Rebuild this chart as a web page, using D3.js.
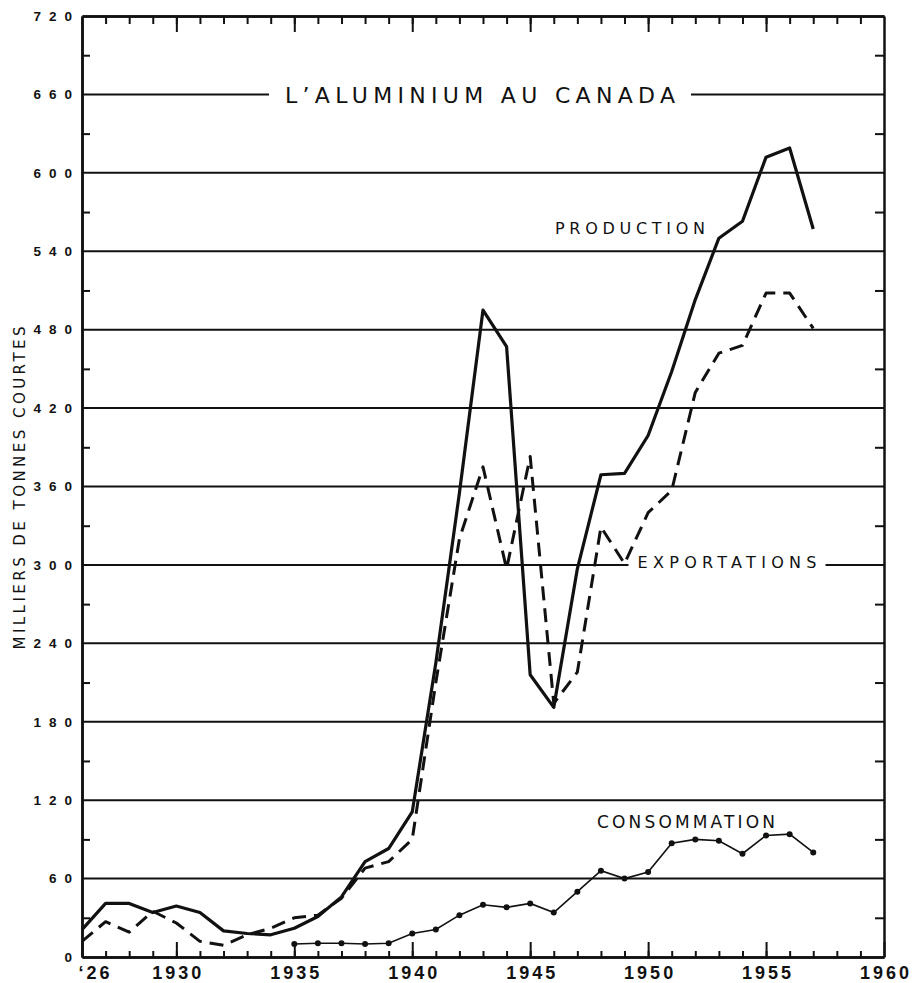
<!DOCTYPE html>
<html>
<head>
<meta charset="utf-8">
<script src="https://cdn.jsdelivr.net/npm/d3@7"></script>
<style>
  body { margin: 0; background: #fff; }
  text { font-family: 'DejaVu Sans', sans-serif; fill: #111; }
  .num text { font-family: 'Liberation Sans', Arial, sans-serif; font-weight: bold; }
</style>
</head>
<body>
<div id="graph"></div>
<script>
// global variables
var chart_width = 915;
var chart_height = 983;

// data (milliers de tonnes courtes)
var years = [1926, 1927, 1928, 1929, 1930, 1931, 1932, 1933, 1934, 1935, 1936,
  1937, 1938, 1939, 1940, 1941, 1942, 1943, 1944, 1945, 1946, 1947, 1948, 1949,
  1950, 1951, 1952, 1953, 1954, 1955, 1956, 1957];
var production = [21, 41, 41, 34, 39, 34, 20, 18, 17, 22, 31, 46, 73, 83, 111,
  225, 355, 495, 467, 216, 191, 297, 369, 370, 399, 448, 503, 550, 563, 612, 619, 557];
var exportations = [12, 27, 19, 35, 26, 12, 9, 17, 22, 30, 32, 45, 68, 73, 90,
  210, 320, 375, 297, 383, 194, 218, 329, 301, 340, 357, 432, 462, 468, 508, 508, 481];
var consoYears = [1935, 1936, 1937, 1938, 1939, 1940, 1941, 1942, 1943, 1944, 1945,
  1946, 1947, 1948, 1949, 1950, 1951, 1952, 1953, 1954, 1955, 1956, 1957];
var consommation = [10, 10.5, 10.5, 10, 10.5, 18, 21, 32, 40, 38, 41, 34, 50, 66,
  60, 65, 87, 90, 89, 79, 93, 94, 80];

var yTicks = [0, 60, 120, 180, 240, 300, 360, 420, 480, 540, 600, 660, 720];
var yMinorTicks = [30, 90, 150, 210, 270, 330, 390, 450, 510, 570, 630, 690];
var xMajorTicks = [1926, 1930, 1935, 1940, 1945, 1950, 1955, 1960];
var xMinorTicks = d3.range(1927, 1960);

var x_scale = d3.scaleLinear().domain([1926, 1960]).range([82, 884]);
var y_scale = d3.scaleLinear().domain([0, 720]).range([957, 16]);

var svg = d3
  .select('#graph')
  .append('svg')
  .attr('width', chart_width)
  .attr('height', chart_height);

// horizontal rules every 60
svg
  .append('g')
  .selectAll('line')
  .data(yTicks.filter(function(d) { return d > 0 && d < 720; }))
  .enter()
  .append('line')
  .attr('x1', x_scale(1926))
  .attr('x2', x_scale(1960))
  .attr('y1', function(d) { return y_scale(d); })
  .attr('y2', function(d) { return y_scale(d); })
  .attr('stroke', '#111')
  .attr('stroke-width', 2);

var knockouts = svg.append('g');

// axes - ticks point inward
var axisStyle = function(g) {
  g.select('.domain').attr('stroke', '#111').attr('stroke-width', 2.5);
  g.selectAll('.tick line').attr('stroke', '#111').attr('stroke-width', 2);
};

svg.append('g')
  .attr('transform', 'translate(0,' + y_scale(0) + ')')
  .call(d3.axisBottom(x_scale).tickValues(xMinorTicks).tickSize(-6).tickFormat('').tickSizeOuter(0))
  .call(axisStyle);

svg.append('g')
  .attr('class', 'xlabels num')
  .attr('transform', 'translate(0,' + y_scale(0) + ')')
  .call(d3.axisBottom(x_scale).tickValues(xMajorTicks).tickSize(-15).tickPadding(9)
    .tickFormat(function(d) { return d === 1926 ? '\u201826' : d; }).tickSizeOuter(0))
  .call(axisStyle);

svg.select('.xlabels').selectAll('text')
  .attr('font-size', 18)
  .style('letter-spacing', '3px')
  .attr('dx', function(d) { return d === 1926 ? 13 : 1.5; });

svg.append('g')
  .attr('transform', 'translate(0,' + y_scale(720) + ')')
  .call(d3.axisTop(x_scale).tickValues(xMinorTicks).tickSize(-8).tickFormat('').tickSizeOuter(0))
  .call(axisStyle);

svg.append('g')
  .attr('transform', 'translate(0,' + y_scale(720) + ')')
  .call(d3.axisTop(x_scale).tickValues(xMajorTicks.slice(1, -1)).tickSize(-16).tickFormat('').tickSizeOuter(0))
  .call(axisStyle);

svg.append('g')
  .attr('class', 'ylabels num')
  .attr('transform', 'translate(' + x_scale(1926) + ',0)')
  .call(d3.axisLeft(y_scale).tickValues(yTicks).tickSize(0).tickPadding(2).tickSizeOuter(0))
  .call(axisStyle);

svg.select('.ylabels').selectAll('text')
  .attr('font-size', 13.5)
  .style('letter-spacing', '8px');

svg.append('g')
  .attr('transform', 'translate(' + x_scale(1926) + ',0)')
  .call(d3.axisLeft(y_scale).tickValues(yMinorTicks).tickSize(-8).tickFormat('').tickSizeOuter(0))
  .call(axisStyle);

svg.append('g')
  .attr('transform', 'translate(' + x_scale(1960) + ',0)')
  .call(d3.axisRight(y_scale).tickValues(yMinorTicks).tickSize(-9).tickFormat('').tickSizeOuter(0))
  .call(axisStyle);

// lines
var prodData = years.map(function(y, i) { return { year: y, value: production[i] }; });
var expData = years.map(function(y, i) { return { year: y, value: exportations[i] }; });
var consData = consoYears.map(function(y, i) { return { year: y, value: consommation[i] }; });

var line = d3
  .line()
  .x(function(d) { return x_scale(d.year); })
  .y(function(d) { return y_scale(d.value); });

svg.append('path')
  .datum(expData)
  .attr('fill', 'none')
  .attr('stroke', '#111')
  .attr('stroke-width', 3)
  .attr('stroke-dasharray', '14,8')
  .attr('stroke-linejoin', 'round')
  .attr('d', line);

svg.append('path')
  .datum(prodData)
  .attr('fill', 'none')
  .attr('stroke', '#111')
  .attr('stroke-width', 3.2)
  .attr('stroke-linejoin', 'round')
  .attr('d', line);

svg.append('path')
  .datum(consData)
  .attr('fill', 'none')
  .attr('stroke', '#111')
  .attr('stroke-width', 1.6)
  .attr('d', line);

svg.append('g')
  .selectAll('circle')
  .data(consData)
  .enter()
  .append('circle')
  .attr('cx', function(d) { return x_scale(d.year); })
  .attr('cy', function(d) { return y_scale(d.value); })
  .attr('r', 3)
  .attr('fill', '#111');

// labels, with a white gap cut in the rule behind them
var addLabel = function(txt, cx, base, size, len, gap) {
  var t = svg.append('text')
    .attr('x', cx)
    .attr('y', base)
    .attr('text-anchor', 'middle')
    .attr('font-size', size)
    .attr('textLength', len)
    .attr('lengthAdjust', 'spacing')
    .text(txt);
  if (gap) {
    knockouts.append('rect')
      .attr('x', cx - len / 2 - gap)
      .attr('y', base - size)
      .attr('width', len + gap * 2)
      .attr('height', size * 1.4)
      .attr('fill', '#fff');
  }
  return t;
};

addLabel('L\u2019ALUMINIUM AU CANADA', 480, 103, 22, 390, 16);
addLabel('PRODUCTION', 630, 234, 16, 150, 0);
addLabel('EXPORTATIONS', 727, 568, 16, 179, 9);
addLabel('CONSOMMATION', 686, 828, 17, 178, 0);

svg.append('text')
  .attr('transform', 'translate(25,488) rotate(-90)')
  .attr('text-anchor', 'middle')
  .attr('font-size', 15)
  .attr('textLength', 323)
  .attr('lengthAdjust', 'spacing')
  .text('MILLIERS DE TONNES COURTES');
</script>
</body>
</html>
